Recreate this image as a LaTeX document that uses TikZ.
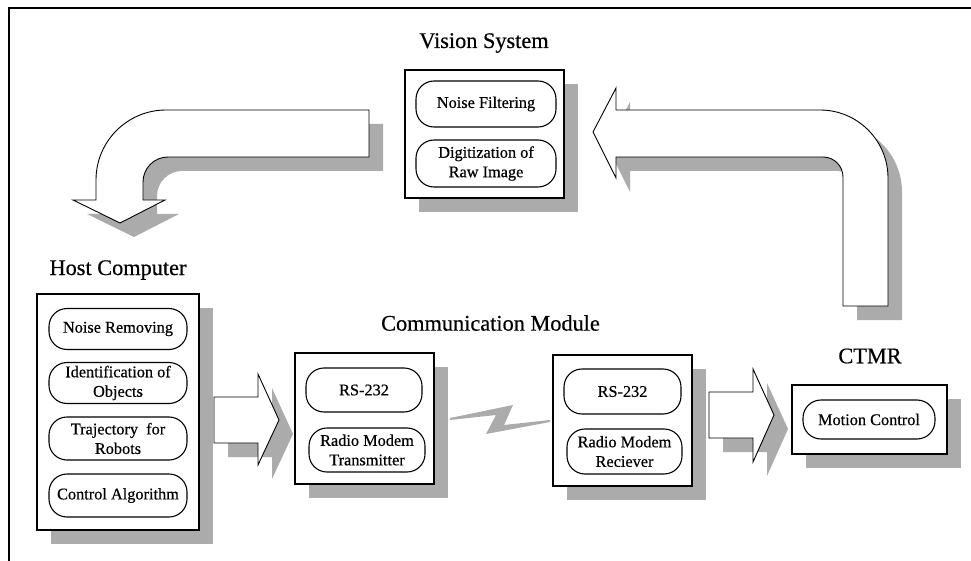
\documentclass[tikz,border=0pt]{standalone}
\usepackage{fontspec}
\setmainfont{Liberation Serif}[FakeBold=0.5]
\usetikzlibrary{positioning,shadows}
\definecolor{ShadowGray}{HTML}{ABABAB}

\begin{document}
\begin{tikzpicture}[x=1pt, y=1pt,
    every node/.style={font=\fontsize{16.3}{19.5}\selectfont},
    boxshadow/.style={drop shadow={shadow xshift=14pt, shadow yshift=-14pt, opacity=1, fill=ShadowGray}},
    unit/.style={rectangle, draw, line width=1.6pt, fill=white, boxshadow, minimum width=#1},
    pill/.style={rectangle, rounded corners=18pt, draw, line width=1.1pt, fill=white,
      align=center, minimum width=#1, minimum height=43pt, inner sep=1pt},
    title/.style={font=\fontsize{22.3}{26}\selectfont},
    bigarrow/.style={draw, line width=0.9pt, fill=white, line join=miter, boxshadow}]
    \useasboundingbox (0,0) rectangle (971,-561);
    \draw[line width=1.8pt] (971,-8) -- (9,-8) -- (9,-561);

    % feedback loop: vision -> host, robot -> vision
    \draw[bigarrow] (369,-110) -- (369,-157) -- (168,-157) arc[start angle=90, end angle=180, radius=25]
      -- (143,-200) -- (165,-200) -- (120,-223) -- (73,-200) -- (96,-200) -- (96,-180)
      arc[start angle=180, end angle=90, radius=70] -- cycle;
    \draw[bigarrow] (593,-132) -- (616,-88) -- (616,-110) -- (820,-110) arc[start angle=90, end angle=0, radius=68]
      -- (888,-306) -- (843,-306) -- (843,-177) arc[start angle=0, end angle=90, radius=20]
      -- (616,-157) -- (616,-178) -- cycle;

    % vision system
    \node[title] (tvis) at (484,-43) {Vision System};
    \node[unit=159pt, minimum height=128pt] (vis) at (484.5,-134) {};
    \node[pill=140pt, minimum height=46pt] (nf) at (486,-104) {Noise Filtering};
    \node[pill=140pt, minimum height=47pt] (dig) at (486,-163.5) {Digitization of\\Raw Image};

    % host computer
    \node[title] (thost) at (118,-270) {Host Computer};
    \node[unit=162pt, minimum height=236pt] (host) at (118,-412) {};
    \node[pill=138pt, minimum height=41pt] (nr) at (118,-329) {Noise Removing};
    \node[pill=138pt, minimum height=41pt] (ido) at (118,-383) {Identification of\\Objects};
    \node[pill=138pt] (traj) at (118,-438.5) {Trajectory\enspace for\\Robots};
    \node[pill=138pt] (ctrl) at (118,-495.5) {Control Algorithm};

    % communication module
    \node[title] (tcomm) at (490.5,-323) {Communication Module};
    \node[unit=139pt, minimum height=131pt] (tx) at (364.5,-418.5) {};
    \node[pill=116pt, minimum height=44pt] (txrs) at (364,-390) {RS-232};
    \node[pill=116pt, minimum height=44pt] (txrm) at (367,-450) {Radio Modem\\Transmitter};
    \node[unit=139pt, minimum height=131pt] (rx) at (622.5,-420.5) {};
    \node[pill=117pt, minimum height=45pt] (rxrs) at (622.5,-391.5) {RS-232};
    \node[pill=115pt, minimum height=45pt] (rxrm) at (624.5,-451.5) {Radio Modem\\Reciever};
    \fill[ShadowGray] (450,-418) -- (513,-405) -- (504,-425) -- (550,-420) -- (550,-422)
      -- (486,-434) -- (496,-415) -- (450,-420) -- cycle;

    % robot
    \node[title] (tctmr) at (870,-356) {CTMR};
    \node[unit=155pt, minimum height=69pt] (ctmr) at (869.5,-419.5) {};
    \node[pill=132pt, minimum height=39pt] (mc) at (869,-419.5) {Motion Control};

    % data flow arrows
    \draw[bigarrow] (214,-397) -- (258,-397) -- (258,-374) -- (279,-420) -- (258,-465) -- (258,-443) -- (214,-443) -- cycle;
    \draw[bigarrow] (709,-392) -- (753,-392) -- (753,-369) -- (774,-415) -- (753,-462) -- (753,-438) -- (709,-438) -- cycle;
  \end{tikzpicture}
\end{document}
